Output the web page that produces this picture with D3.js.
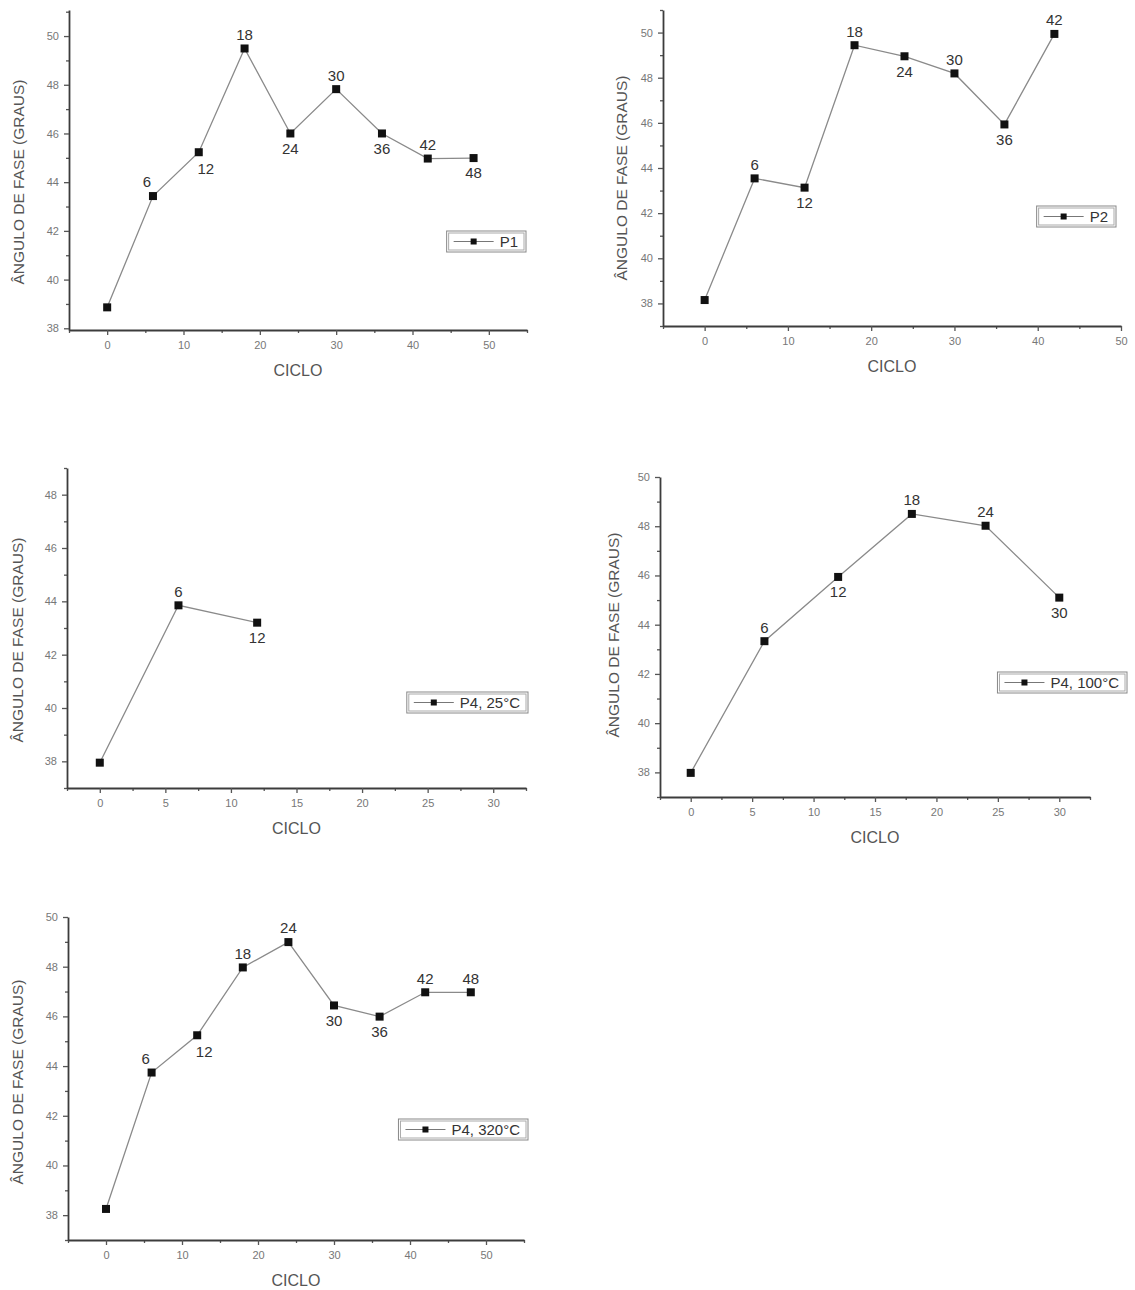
<!DOCTYPE html>
<html>
<head>
<meta charset="utf-8">
<script src="https://cdn.jsdelivr.net/npm/d3@7"></script>
<style>
  body { margin: 0; background: #fff; }
  text { font-family: "Liberation Sans", Arial, sans-serif; }
</style>
</head>
<body>
<div id="my_dataviz"></div>
<script>
// values: ciclo vs angulo de fase
var cicloP1 = [0, 6, 12, 18, 24, 30, 36, 42, 48];
var faseP1 = [38.86, 43.43, 45.23, 49.49, 46.0, 47.82, 46.0, 44.97, 44.99];

var cicloP2 = [0, 6, 12, 18, 24, 30, 36, 42];
var faseP2 = [38.15, 43.54, 43.13, 49.44, 48.95, 48.19, 45.93, 49.94];

var cicloP4a = [0, 6, 12];
var faseP4a = [37.95, 43.85, 43.2];

var cicloP4b = [0, 6, 12, 18, 24, 30];
var faseP4b = [37.98, 43.33, 45.94, 48.5, 48.02, 45.1];

var cicloP4c = [0, 6, 12, 18, 24, 30, 36, 42, 48];
var faseP4c = [38.25, 43.74, 45.24, 47.97, 48.99, 46.44, 45.99, 46.97, 46.97];

// tick labels
var xTicks50 = [0, 10, 20, 30, 40, 50];
var xTicks30 = [0, 5, 10, 15, 20, 25, 30];
var yTicks50 = [38, 40, 42, 44, 46, 48, 50];
var yTicks48 = [38, 40, 42, 44, 46, 48];

var svg = d3.select("#my_dataviz")
    .append("svg")
    .attr("width", 1135)
    .attr("height", 1290);

// layout of each panel: axes box [left, top, right, bottom], where the point labels go, legend corner
var panels = [
    {name: "P1", x: cicloP1, y: faseP1, box: [69, 10, 527, 330], xDom: [-5, 55], yDom: [37.93, 51.07],
     xTicks: xTicks50, xMinor: 5, yTicks: yTicks50, lbl: ["", "tl", "br", "t", "b", "t", "b", "t", "b"],
     legend: [526, 231], yTitle: [18, 182]},
    {name: "P2", x: cicloP2, y: faseP2, box: [663, 10, 1121, 326], xDom: [-5, 50], yDom: [37, 51],
     xTicks: xTicks50, xMinor: 5, yTicks: yTicks50, lbl: ["", "t", "b", "t", "b", "t", "b", "t"],
     legend: [1116, 206], yTitle: [621, 178]},
    {name: "P4, 25°C", x: cicloP4a, y: faseP4a, box: [67, 468, 526, 788], xDom: [-2.5, 32.5], yDom: [37, 49],
     xTicks: xTicks30, xMinor: 2.5, yTicks: yTicks48, lbl: ["", "t", "b"],
     legend: [528, 692], yTitle: [17, 640]},
    {name: "P4, 100°C", x: cicloP4b, y: faseP4b, box: [660, 477, 1090, 797], xDom: [-2.5, 32.5], yDom: [37, 50],
     xTicks: xTicks30, xMinor: 2.5, yTicks: yTicks50, lbl: ["", "t", "b", "t", "t", "b"],
     legend: [1127, 672], yTitle: [613, 635]},
    {name: "P4, 320°C", x: cicloP4c, y: faseP4c, box: [68, 917, 524, 1240], xDom: [-5, 55], yDom: [37, 50],
     xTicks: xTicks50, xMinor: 5, yTicks: yTicks50, lbl: ["", "tl", "br", "t", "t", "b", "b", "t", "t"],
     legend: [528, 1119], yTitle: [17, 1082]}
];

// label offsets relative to the marker (dx, dy of text centre)
var lblOff = {t: [0, -14], b: [0, 15], tl: [-6, -14], br: [7, 16]};

panels.forEach(function(p) { draw(p); });

function draw(p) {
    var left = p.box[0], top = p.box[1], right = p.box[2], bottom = p.box[3];

    var x = d3.scaleLinear().domain(p.xDom).range([left, right]);
    var y = d3.scaleLinear().domain(p.yDom).range([bottom, top]);

    var g = svg.append("g");

    // minor ticks first
    var xMin = d3.range(Math.ceil(p.xDom[0] / p.xMinor) * p.xMinor, p.xDom[1] + 0.001, p.xMinor)
        .filter(function(v) { return p.xTicks.indexOf(v) < 0; });
    var yMin = d3.range(Math.ceil(p.yDom[0]), p.yDom[1] + 0.001, 1)
        .filter(function(v) { return p.yTicks.indexOf(v) < 0; });

    g.append("g")
        .attr("transform", "translate(0," + bottom + ")")
        .call(d3.axisBottom(x).tickValues(xMin).tickSize(3).tickSizeOuter(0).tickFormat(""))
        .call(function(a) { a.select(".domain").remove(); });
    g.append("g")
        .attr("transform", "translate(" + left + ",0)")
        .call(d3.axisLeft(y).tickValues(yMin).tickSize(3).tickSizeOuter(0).tickFormat(""))
        .call(function(a) { a.select(".domain").remove(); });

    // X axis
    var xa = g.append("g")
        .attr("transform", "translate(0," + bottom + ")")
        .call(d3.axisBottom(x).tickValues(p.xTicks).tickSize(5).tickSizeOuter(0).tickPadding(6));
    // Y axis
    var ya = g.append("g")
        .attr("transform", "translate(" + left + ",0)")
        .call(d3.axisLeft(y).tickValues(p.yTicks).tickSize(5).tickSizeOuter(0).tickPadding(5));

    g.selectAll(".domain").attr("stroke", "#3c3c3c").attr("stroke-width", 1.8);
    g.selectAll(".tick line").attr("stroke", "#555").attr("stroke-width", 1.3);
    g.selectAll(".tick text")
        .attr("fill", "#777")
        .style("font-size", "11px")
        .style("font-family", "'Liberation Sans', Arial, sans-serif");

    // axis titles
    g.append("text")
        .attr("x", (left + right) / 2)
        .attr("y", bottom + 46)
        .attr("text-anchor", "middle")
        .attr("fill", "#555")
        .style("font-size", "16px")
        .text("CICLO");
    g.append("text")
        .attr("transform", "translate(" + (p.yTitle[0] + 6) + "," + p.yTitle[1] + ")rotate(-90)")
        .attr("text-anchor", "middle")
        .attr("fill", "#555")
        .style("font-size", "15.5px")
        .text("ÂNGULO DE FASE (GRAUS)");

    var pts = p.x.map(function(v, i) { return {c: v, f: p.y[i], pos: p.lbl[i]}; });

    // line
    g.append("path")
        .datum(pts)
        .attr("fill", "none")
        .attr("stroke", "#8a8a8a")
        .attr("stroke-width", 1.3)
        .attr("d", d3.line()
            .x(function(d) { return x(d.c); })
            .y(function(d) { return y(d.f); }));

    // markers
    g.selectAll("myRect")
        .data(pts)
        .enter()
        .append("rect")
        .attr("x", function(d) { return x(d.c) - 4; })
        .attr("y", function(d) { return y(d.f) - 4; })
        .attr("width", 8)
        .attr("height", 8)
        .attr("fill", "#111");

    // cycle number next to each point
    g.selectAll("myLabel")
        .data(pts.filter(function(d) { return d.pos; }))
        .enter()
        .append("text")
        .attr("x", function(d) { return x(d.c) + lblOff[d.pos][0]; })
        .attr("y", function(d) { return y(d.f) + lblOff[d.pos][1]; })
        .attr("dy", "0.36em")
        .attr("text-anchor", "middle")
        .attr("fill", "#333")
        .style("font-size", "15px")
        .text(function(d) { return d.c; });

    // legend
    var lg = g.append("g");
    var lt = lg.append("text")
        .attr("y", p.legend[1] + 16)
        .attr("fill", "#333")
        .style("font-size", "15px")
        .text(p.name);
    var tw = lt.node().getComputedTextLength();
    var w = tw + 61;
    var lx = p.legend[0] - w;
    lt.attr("x", lx + 53);
    lg.append("rect")
        .attr("x", lx).attr("y", p.legend[1])
        .attr("width", w).attr("height", 21)
        .attr("fill", "#fff")
        .attr("stroke", "#888")
        .attr("stroke-width", 1);
    lg.append("rect")
        .attr("x", lx + 2).attr("y", p.legend[1] + 2)
        .attr("width", w - 4).attr("height", 17)
        .attr("fill", "none")
        .attr("stroke", "#aaa")
        .attr("stroke-width", 1);
    lt.raise();
    lg.append("line")
        .attr("x1", lx + 7).attr("x2", lx + 47)
        .attr("y1", p.legend[1] + 10.5).attr("y2", p.legend[1] + 10.5)
        .attr("stroke", "#777")
        .attr("stroke-width", 1.2);
    lg.append("rect")
        .attr("x", lx + 24).attr("y", p.legend[1] + 7.5)
        .attr("width", 6).attr("height", 6)
        .attr("fill", "#111");
}
</script>
</body>
</html>
